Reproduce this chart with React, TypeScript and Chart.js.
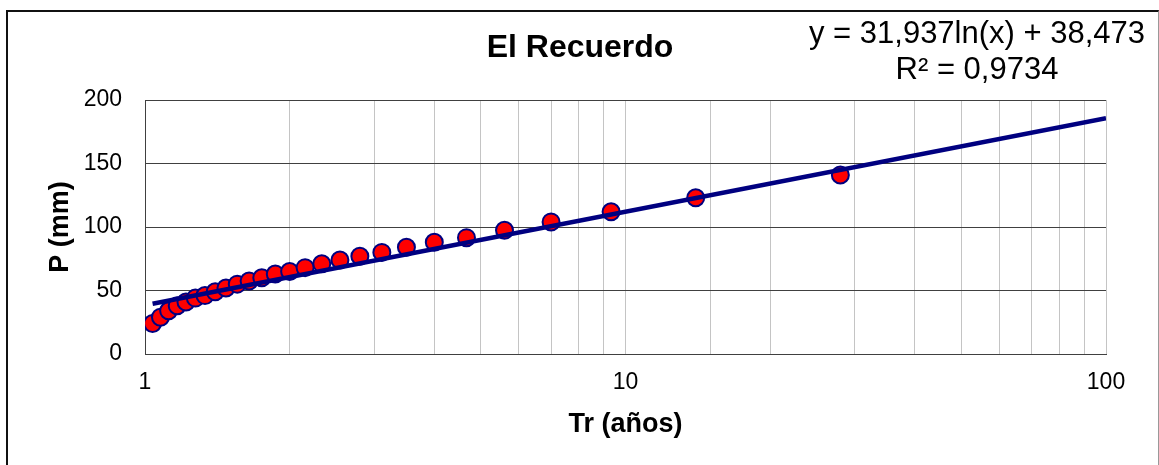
import React, { useEffect, useRef } from 'react';
import { Chart, registerables } from 'chart.js';

Chart.register(...registerables);

// Return periods (años) of the ranked observations
const returnPeriods = [1.037, 1.077, 1.12, 1.167, 1.217, 1.273, 1.333, 1.4, 1.474, 1.556, 1.647, 1.75, 1.867, 2.0, 2.154, 2.333, 2.545, 2.8, 3.111, 3.5, 4.0, 4.667, 5.6, 7.0, 9.333, 14.0, 28.0];
// Precipitation (mm)
const precipitation = [24, 29, 34, 38, 41, 44, 46, 49, 52, 55, 57.5, 60, 63, 65, 68, 71, 74, 77, 80, 84, 88, 91.6, 97.4, 104, 112, 123, 141];
// Logarithmic trend line end points
const trendX = [1.037, 100];
const trendY = [39.6, 185.6];
// Axis tick labels
const xTickLabels = [1, 10, 100];
const yTickValues = [0, 50, 100, 150, 200];

const chartTitle = 'El Recuerdo';
const equationLine = 'y = 31,937ln(x) + 38,473';
const r2Line = 'R² = 0,9734';
const xAxisTitle = 'Tr (años)';
const yAxisTitle = 'P (mm)';

const FONT = '"Liberation Sans", Arial, sans-serif';

export default function App() {
  const canvasRef = useRef<HTMLCanvasElement | null>(null);

  useEffect(() => {
    const canvas = canvasRef.current;
    if (!canvas) return;

    const textPlugin = {
      id: 'textOverlay',
      afterDraw(chart: any) {
        const ctx = chart.ctx;
        ctx.save();
        ctx.fillStyle = '#000000';
        ctx.textAlign = 'center';
        ctx.textBaseline = 'middle';
        ctx.font = `bold 32px ${FONT}`;
        ctx.fillText(chartTitle, 580, 48);
        ctx.font = `31px ${FONT}`;
        ctx.fillText(equationLine, 977, 34);
        ctx.fillText(r2Line, 977, 70);
        ctx.restore();
      },
    };

    const chart = new Chart(canvas, {
      type: 'scatter',
      data: {
        datasets: [
          {
            type: 'line',
            label: 'Tendencia',
            data: trendX.map((x, i) => ({ x, y: trendY[i] })),
            borderColor: '#000080',
            borderWidth: 4.5,
            pointRadius: 0,
            fill: false,
            order: 0,
          },
          {
            label: 'P',
            data: returnPeriods.map((x, i) => ({ x, y: precipitation[i] })),
            backgroundColor: '#ff0000',
            borderColor: '#000080',
            borderWidth: 2,
            pointRadius: 8.5,
            order: 1,
          },
        ],
      },
      options: {
        responsive: false,
        animation: false,
        maintainAspectRatio: false,
        layout: { padding: { left: 0, right: 53, top: 100, bottom: 0 } },
        plugins: {
          legend: { display: false },
          tooltip: { enabled: false },
          title: { display: false },
        },
        scales: {
          x: {
            type: 'logarithmic',
            min: 1,
            max: 100,
            afterFit: (scale: any) => {
              scale.height = 111;
            },
            grid: {
              color: '#c4c4c4',
              lineWidth: 1,
              drawTicks: false,
            },
            border: { display: true, color: '#404040', width: 1 },
            ticks: {
              autoSkip: false,
              maxRotation: 0,
              padding: 15,
              color: '#000000',
              font: { family: FONT, size: 23 },
              callback: (v: any) => (xTickLabels.includes(Number(v)) ? String(v) : ''),
            },
            title: {
              display: true,
              text: xAxisTitle,
              color: '#000000',
              font: { family: FONT, size: 27, weight: 'bold' },
              padding: { top: 0, bottom: 24 },
            },
          },
          y: {
            min: 0,
            max: 200,
            afterFit: (scale: any) => {
              scale.width = 145;
            },
            afterBuildTicks: (scale: any) => {
              scale.ticks = yTickValues.map((v) => ({ value: v }));
            },
            grid: {
              color: '#404040',
              lineWidth: 1,
              drawTicks: false,
            },
            border: { display: true, color: '#404040', width: 1 },
            ticks: {
              padding: 23,
              color: '#000000',
              font: { family: FONT, size: 23 },
            },
            title: {
              display: true,
              text: yAxisTitle,
              color: '#000000',
              font: { family: FONT, size: 27, weight: 'bold' },
              padding: { top: 44, bottom: 0 },
            },
          },
        },
      },
      plugins: [textPlugin],
    });

    return () => chart.destroy();
  }, []);

  return (
    <div
      style={{
        position: 'fixed',
        left: 0,
        top: 0,
        width: 1159,
        height: 465,
        background: '#ffffff',
        overflow: 'hidden',
      }}
    >
      <canvas ref={canvasRef} width={1159} height={465} style={{ position: 'absolute', left: 0, top: 0 }} />
      <div
        style={{
          position: 'absolute',
          left: 6,
          top: 10,
          width: 1150,
          height: 480,
          borderLeft: '2px solid #111111',
          borderTop: '2px solid #111111',
          borderRight: '1px solid #999999',
          pointerEvents: 'none',
        }}
      />
    </div>
  );
}
